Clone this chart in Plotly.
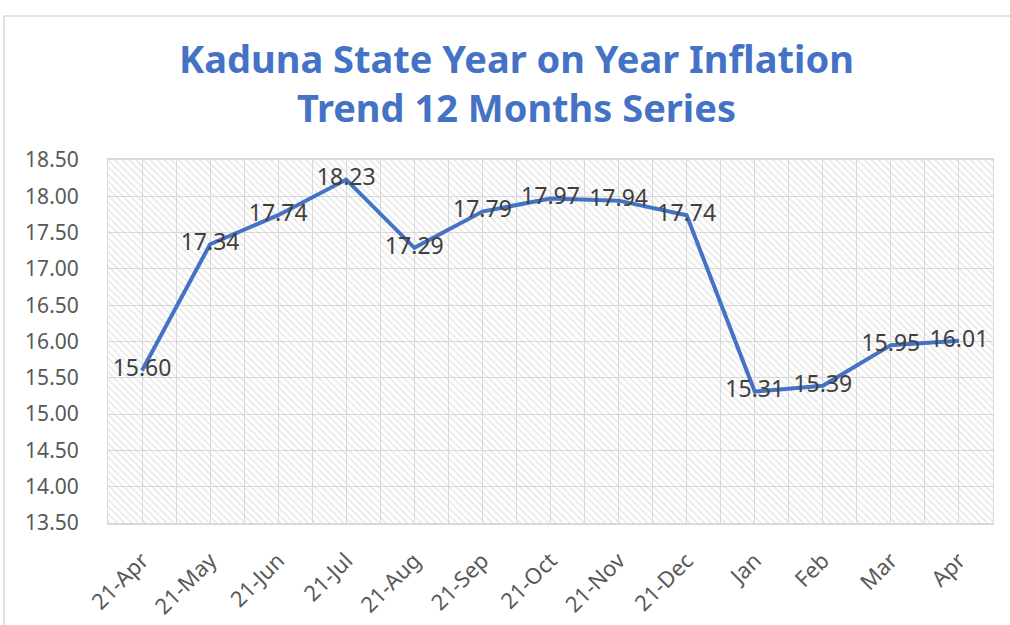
import plotly.graph_objects as go

categories = ["21-Apr", "21-May", "21-Jun", "21-Jul", "21-Aug", "21-Sep", "21-Oct",
              "21-Nov", "21-Dec", "Jan", "Feb", "Mar", "Apr"]
inflation = [15.60, 17.34, 17.74, 18.23, 17.29, 17.79, 17.97, 17.94, 17.74,
             15.31, 15.39, 15.95, 16.01]
title_lines = ["Kaduna State Year on Year Inflation", "Trend 12 Months Series"]
y_min, y_max, y_step = 13.5, 18.5, 0.5

W, H = 1010, 625
ML, MR, MT, MB = 108, 17, 160, 102
PW, PH = W - ML - MR, H - MT - MB

idx = list(range(len(categories)))
font_main = "Noto Sans"
blue = "#4472C4"
grid = "#d9d9d9"


def py(pix):
    """pixel row -> paper y"""
    return (MT + PH - pix) / PH


def px(pix):
    return (pix - ML) / PW


fig = go.Figure()

# hatched plot-area background
fig.add_trace(go.Bar(
    x=idx, y=[y_max - y_min] * len(idx), base=y_min, width=1,
    marker=dict(color="rgba(0,0,0,0)", line=dict(width=0),
                pattern=dict(shape="\\", fgcolor="#d0d0d0", bgcolor="rgba(0,0,0,0)",
                             size=5, solidity=0.3)),
    hoverinfo="skip", showlegend=False))

fig.add_trace(go.Scatter(
    x=idx, y=inflation, mode="lines+text",
    line=dict(color=blue, width=4),
    text=[f"{v:.2f}" for v in inflation], textposition="middle center",
    textfont=dict(family=font_main, size=23, color="#404040"),
    showlegend=False, cliponaxis=False))

# outer chart-area border
fig.add_shape(type="rect", xref="paper", yref="paper",
              x0=px(4), x1=px(W + 10), y0=py(H + 10), y1=py(16),
              line=dict(color=grid, width=1.5), fillcolor="rgba(0,0,0,0)", layer="below")

fig.add_annotation(text="<b>" + "<br>".join(title_lines) + "</b>",
                   xref="paper", yref="paper", x=px(516), y=py(83),
                   xanchor="center", yanchor="middle", showarrow=False,
                   font=dict(family=font_main, size=38, color=blue))

fig.update_layout(
    width=W, height=H,
    margin=dict(l=ML, r=MR, t=MT, b=MB, autoexpand=False),
    paper_bgcolor="white", plot_bgcolor="white",
    bargap=0,
    xaxis=dict(range=[-0.5, len(idx) - 0.5], tickmode="array", tickvals=idx,
               ticktext=categories, tickangle=-45, automargin=False,
               tickfont=dict(family=font_main, size=22, color="#595959"),
               showgrid=True, gridcolor=grid, gridwidth=1,
               minor=dict(showgrid=True, gridcolor=grid, gridwidth=1,
                          tickmode="linear", tick0=-0.5, dtick=1),
               showline=True, linecolor=grid, linewidth=2, mirror=True,
               zeroline=False, ticks="", ticklabelstandoff=14),
    yaxis=dict(range=[y_min, y_max], dtick=y_step, tick0=y_min, tickformat=".2f",
               automargin=False,
               tickfont=dict(family=font_main, size=21, color="#595959"),
               showgrid=True, gridcolor=grid, gridwidth=1,
               showline=True, linecolor=grid, linewidth=1, mirror=True,
               zeroline=False, ticks="", ticklen=0, ticklabelstandoff=24),
)

fig.write_html("out.html", config={"displayModeBar": False},
               post_script="document.body.style.margin='0';")
